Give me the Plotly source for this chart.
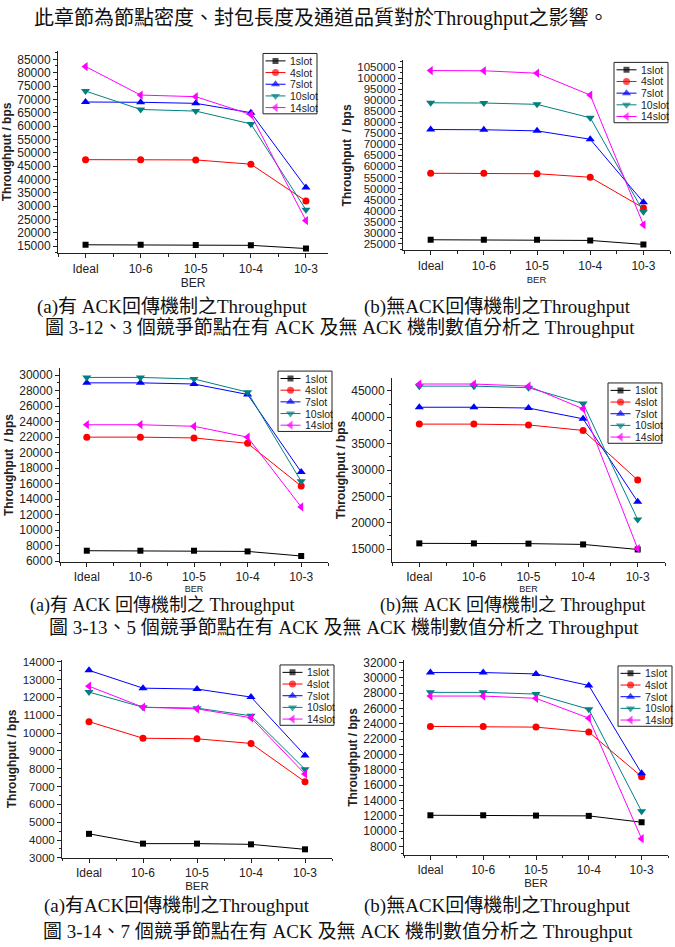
import plotly.graph_objects as go

W, H = 675, 947

# ---------------- data ----------------
ber_labels = ["Ideal", "10-6", "10-5", "10-4", "10-3"]
slot_names = ["1slot", "4slot", "7slot", "10slot", "14slot"]

# Fig 3-12 (a) with ACK, 3 nodes
tp_312a_1slot = [15500, 15500, 15400, 15300, 14100]
tp_312a_4slot = [47400, 47400, 47300, 45700, 31900]
tp_312a_7slot = [69000, 68900, 68500, 65000, 37000]
tp_312a_10slot = [73100, 66200, 65600, 60800, 28600]
tp_312a_14slot = [82300, 71600, 71000, 64300, 24600]
# Fig 3-12 (b) without ACK, 3 nodes
tp_312b_1slot = [26800, 26800, 26800, 26500, 24700]
tp_312b_4slot = [56900, 56900, 56700, 55100, 41200]
tp_312b_7slot = [76700, 76600, 76100, 72300, 43800]
tp_312b_10slot = [88800, 88700, 88100, 82000, 39500]
tp_312b_14slot = [103400, 103300, 102200, 92300, 33600]
# Fig 3-13 (a) with ACK, 5 nodes
tp_313a_1slot = [7360, 7360, 7360, 7270, 6680]
tp_313a_4slot = [22000, 22000, 21900, 21200, 15700]
tp_313a_7slot = [29000, 29000, 28850, 27500, 17500]
tp_313a_10slot = [29700, 29700, 29500, 27800, 16300]
tp_313a_14slot = [23600, 23600, 23400, 22000, 13000]
# Fig 3-13 (b) without ACK, 5 nodes
tp_313b_1slot = [16100, 16100, 16050, 15900, 14950]
tp_313b_4slot = [38700, 38700, 38550, 37500, 28100]
tp_313b_7slot = [41900, 41900, 41750, 39700, 24000]
tp_313b_10slot = [45900, 45900, 45600, 42600, 20600]
tp_313b_14slot = [46300, 46300, 45900, 41600, 15100]
# Fig 3-14 (a) with ACK, 7 nodes
tp_314a_1slot = [4350, 3800, 3800, 3760, 3480]
tp_314a_4slot = [10640, 9710, 9680, 9420, 7270]
tp_314a_7slot = [13520, 12520, 12470, 12020, 8750]
tp_314a_10slot = [12300, 11450, 11400, 10970, 7970]
tp_314a_14slot = [12630, 11450, 11360, 10860, 7710]
# Fig 3-14 (b) without ACK, 7 nodes
tp_314b_1slot = [12060, 12060, 12020, 11980, 11150]
tp_314b_4slot = [23670, 23670, 23580, 22940, 17110]
tp_314b_7slot = [30710, 30710, 30530, 29020, 17540]
tp_314b_10slot = [28120, 28120, 27900, 25910, 12580]
tp_314b_14slot = [27640, 27640, 27340, 24750, 9000]

# ---------------- styles ----------------
colors = ["#000000", "#FF0000", "#0000FF", "#008080", "#FF00FF"]
symbols = ["square", "circle", "triangle-up", "triangle-down", "triangle-left"]
msizes = [6, 7, 8, 8, 8]
SANS = "Liberation Sans, Arial, sans-serif"
TXT = "Liberation Serif, Noto Sans CJK TC, serif"

panels = [
    dict(series=[tp_312a_1slot, tp_312a_4slot, tp_312a_7slot, tp_312a_10slot, tp_312a_14slot],
         box=(58, 328, 47, 252), xr=[-0.5, 4.4], yr=[12300, 88300], dtick=5000,
         ytitle="Throughput / bps", xts=12, xso=2, tfs=12, leg=(263, 50)),
    dict(series=[tp_312b_1slot, tp_312b_4slot, tp_312b_7slot, tp_312b_10slot, tp_312b_14slot],
         box=(403, 670, 57, 249), xr=[-0.52, 4.5], yr=[22000, 108000], dtick=5000,
         ytitle="Throughput\u00a0 / bps", xts=9.5, xso=4, tfs=11.5, leg=(614, 59)),
    dict(series=[tp_313a_1slot, tp_313a_4slot, tp_313a_7slot, tp_313a_10slot, tp_313a_14slot],
         box=(60, 328, 368, 564), xr=[-0.5, 4.5], yr=[5900, 30900], dtick=2000,
         ytitle="Throughput\u00a0 / bps", xts=9, xso=0, tfs=12, leg=(278, 371)),
    dict(series=[tp_313b_1slot, tp_313b_4slot, tp_313b_7slot, tp_313b_10slot, tp_313b_14slot],
         box=(392, 665, 378, 564), xr=[-0.5, 4.5], yr=[12560, 47440], dtick=5000,
         ytitle="Throughput / bps", xts=9, xso=0, tfs=12, leg=(608, 383)),
    dict(series=[tp_314a_1slot, tp_314a_4slot, tp_314a_7slot, tp_314a_10slot, tp_314a_14slot],
         box=(62, 332, 663, 863), xr=[-0.5, 4.5], yr=[3000, 14100], dtick=1000,
         ytitle="Throughput / bps", xts=11.5, xso=2, tfs=11.5, leg=(280, 668)),
    dict(series=[tp_314b_1slot, tp_314b_4slot, tp_314b_7slot, tp_314b_10slot, tp_314b_14slot],
         box=(404, 668, 663, 860), xr=[-0.5, 4.5], yr=[6880, 32350], dtick=2000,
         ytitle="Throughput / bps", xts=11.5, xso=2, tfs=12, leg=(618, 669)),
]

LEG_W, LEG_H = 54, 61

fig = go.Figure()
layout = dict(
    width=W, height=H, margin=dict(l=0, r=0, t=0, b=0),
    paper_bgcolor="white", plot_bgcolor="rgba(0,0,0,0)",
    showlegend=False, shapes=[], annotations=[],
)

xpos = list(range(len(ber_labels)))

for i, p in enumerate(panels):
    n = i + 1
    xa = "x" if n == 1 else f"x{n}"
    ya = "y" if n == 1 else f"y{n}"
    x0, x1, y0, y1 = p["box"]
    for s, vals in enumerate(p["series"]):
        fig.add_trace(go.Scatter(
            x=xpos, y=vals, mode="lines+markers", name=slot_names[s],
            line=dict(color=colors[s], width=1),
            marker=dict(symbol=symbols[s], size=msizes[s], color=colors[s],
                        line=dict(width=0)),
            xaxis=xa, yaxis=ya, showlegend=False))
    layout["xaxis" if n == 1 else f"xaxis{n}"] = dict(
        domain=[x0 / W, x1 / W], anchor=ya, range=p["xr"],
        tickmode="array", tickvals=xpos, ticktext=ber_labels,
        showgrid=False, zeroline=False, showline=True, linecolor="#222", linewidth=1,
        ticks="outside", ticklen=4, tickcolor="#222",
        minor=dict(tickmode="linear", tick0=0.5, dtick=1, ticks="outside",
                   ticklen=2.5, tickcolor="#222"),
        tickfont=dict(family=SANS, size=12, color="#222"),
        title=dict(text="BER", font=dict(family=SANS, size=p["xts"], color="#222"),
                   standoff=p["xso"]),
        fixedrange=True)
    layout["yaxis" if n == 1 else f"yaxis{n}"] = dict(
        domain=[1 - y1 / H, 1 - y0 / H], anchor=xa, range=p["yr"],
        tickmode="linear", tick0=0, dtick=p["dtick"], tickformat="d",
        showgrid=False, zeroline=False, showline=True, linecolor="#222", linewidth=1,
        ticks="outside", ticklen=4, tickcolor="#222",
        minor=dict(dtick=p["dtick"] / 2, ticks="outside", ticklen=2.5, tickcolor="#222"),
        tickfont=dict(family=SANS, size=p["tfs"], color="#222"),
        title=dict(text="<b>" + p["ytitle"] + "</b>",
                   font=dict(family=SANS, size=12, color="#222"), standoff=3),
        fixedrange=True)

    # hand-built boxed legend (overlay axes in pixel units inside the box)
    k = 6 + n
    lx, ly = p["leg"]
    layout[f"xaxis{k}"] = dict(domain=[lx / W, (lx + LEG_W) / W], range=[0, LEG_W],
                               visible=False, fixedrange=True, anchor=f"y{k}")
    layout[f"yaxis{k}"] = dict(domain=[1 - (ly + LEG_H) / H, 1 - ly / H], range=[LEG_H, 0],
                               visible=False, fixedrange=True, anchor=f"x{k}")
    layout["shapes"].append(dict(type="rect", xref="paper", yref="paper",
                                 x0=lx / W, x1=(lx + LEG_W) / W,
                                 y0=1 - (ly + LEG_H) / H, y1=1 - ly / H,
                                 line=dict(color="#222", width=1),
                                 fillcolor="white", layer="below"))
    for s, name in enumerate(slot_names):
        yy = 7.5 + 11.8 * s
        fig.add_trace(go.Scatter(
            x=[2.5, 12.5, 22.5], y=[yy] * 3, mode="lines+markers",
            line=dict(color=colors[s], width=1),
            marker=dict(symbol=symbols[s], size=[0, msizes[s], 0], color=colors[s],
                        line=dict(width=0)),
            xaxis=f"x{k}", yaxis=f"y{k}", showlegend=False, hoverinfo="skip"))
        layout["annotations"].append(dict(
            x=24.5, y=yy, xref=f"x{k}", yref=f"y{k}", text=name, showarrow=False,
            xanchor="left", yanchor="middle",
            font=dict(family=SANS, size=10.5, color="#222")))


def txt(text, x, y, anchor="left", size=19):
    layout["annotations"].append(dict(
        x=x / W, y=1 - y / H, xref="paper", yref="paper", text=text, showarrow=False,
        xanchor=anchor, yanchor="middle", font=dict(family=TXT, size=size, color="#111")))


txt("此章節為節點密度、封包長度及通道品質對於Throughput之影響。", 32, 15, size=20)
txt("(a)有 ACK回傳機制之Throughput", 35, 306)
txt("(b)無ACK回傳機制之Throughput", 362, 306)
txt("圖 3-12、3 個競爭節點在有 ACK 及無 ACK 機制數值分析之 Throughput", 340, 327, "center")
txt("(a)有 ACK 回傳機制之 Throughput", 28, 608, size=18)
txt("(b)無 ACK 回傳機制之 Throughput", 378, 608, size=18)
txt("圖 3-13、5 個競爭節點在有 ACK 及無 ACK 機制數值分析之 Throughput", 344, 630, "center")
txt("(a)有ACK回傳機制之Throughput", 42, 912)
txt("(b)無ACK回傳機制之Throughput", 362, 912)
txt("圖 3-14、7 個競爭節點在有 ACK 及無 ACK 機制數值分析之 Throughput", 338, 937, "center")

fig.update_layout(**layout)
fig.write_html("out.html")
